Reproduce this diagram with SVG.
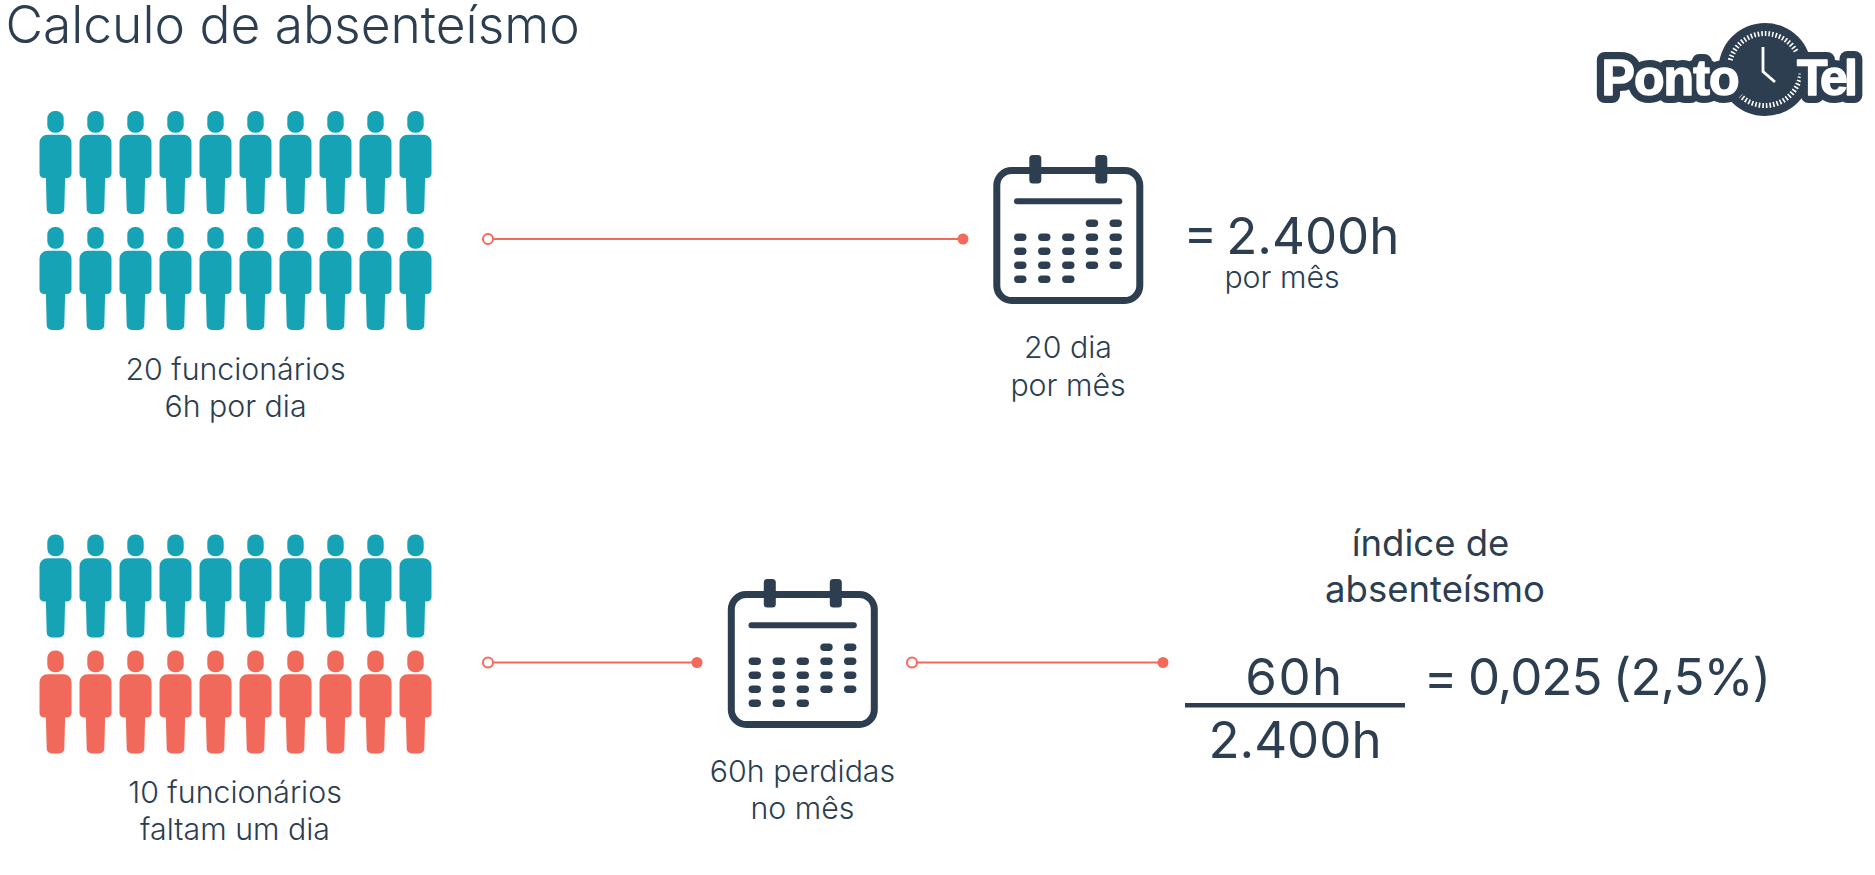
<svg xmlns="http://www.w3.org/2000/svg" xmlns:xlink="http://www.w3.org/1999/xlink" width="1875" height="875" viewBox="0 0 1875 875">
<style>
text{font-family:"Inter","Liberation Sans",sans-serif;fill:#2c3e50;font-weight:400;text-anchor:middle}
.s{font-size:30.300px;font-weight:300}
.m{font-size:36.500px;font-weight:400}
.l{font-size:51px;font-weight:400}
.c{fill:none;stroke:#f4695a;stroke-width:2}
.d{fill:#f4695a}
.o{fill:#fff;stroke:#f4695a;stroke-width:2}
.t{fill:#17a3b6}
.r{fill:#f1695a}
.cal{fill:#2c3e50}
.lg{font-family:"Liberation Sans",sans-serif;font-size:50px;font-weight:700;text-anchor:start}
.lo{fill:#2c3e50;stroke:#2c3e50;stroke-width:16;stroke-linejoin:round}
.li{fill:#fff;stroke:#fff;stroke-width:1.500;stroke-linejoin:round}
</style>
<defs>
<g id="p"><rect x="-8.200" y="111" width="16.400" height="21.700" rx="7.500"/><path d="M-8 134.700H8A8 8 0 0 1 16 142.700V173.500A4.500 4.500 0 0 1 11.500 178H9.600L8.800 209A5 5 0 0 1 3.800 214H-3.800A5 5 0 0 1 -8.800 209L-9.600 178H-11.500A4.500 4.500 0 0 1 -16 173.500V142.700A8 8 0 0 1 -8 134.700Z"/></g>
<g id="row"><use xlink:href="#p" x="55.500"/><use xlink:href="#p" x="95.500"/><use xlink:href="#p" x="135.500"/><use xlink:href="#p" x="175.500"/><use xlink:href="#p" x="215.500"/><use xlink:href="#p" x="255.500"/><use xlink:href="#p" x="295.500"/><use xlink:href="#p" x="335.500"/><use xlink:href="#p" x="375.500"/><use xlink:href="#p" x="415.500"/></g>
<rect id="dot" width="12.400" height="7.400" rx="3.700"/>
<g id="calendar">
<rect x="3.500" y="15.500" width="143" height="130" rx="15" fill="none" stroke="#2c3e50" stroke-width="7"/>
<rect x="36" y="0" width="12" height="28.500" rx="3.500" class="cal"/><rect x="102" y="0" width="12" height="28.500" rx="3.500" class="cal"/>
<rect x="20.700" y="43.300" width="108.300" height="6" rx="3" class="cal"/>
<g class="cal">
<use xlink:href="#dot" x="92.500" y="64.600"/><use xlink:href="#dot" x="116.200" y="64.600"/>
<use xlink:href="#dot" x="20.800" y="78.600"/><use xlink:href="#dot" x="44.800" y="78.600"/><use xlink:href="#dot" x="68.800" y="78.600"/><use xlink:href="#dot" x="92.500" y="78.600"/><use xlink:href="#dot" x="116.200" y="78.600"/>
<use xlink:href="#dot" x="20.800" y="92.600"/><use xlink:href="#dot" x="44.800" y="92.600"/><use xlink:href="#dot" x="68.800" y="92.600"/><use xlink:href="#dot" x="92.500" y="92.600"/><use xlink:href="#dot" x="116.200" y="92.600"/>
<use xlink:href="#dot" x="20.800" y="106.600"/><use xlink:href="#dot" x="44.800" y="106.600"/><use xlink:href="#dot" x="68.800" y="106.600"/><use xlink:href="#dot" x="92.500" y="106.600"/><use xlink:href="#dot" x="116.200" y="106.600"/>
<use xlink:href="#dot" x="20.800" y="120.600"/><use xlink:href="#dot" x="44.800" y="120.600"/><use xlink:href="#dot" x="68.800" y="120.600"/>
</g>
</g>
</defs>
<text id="title" x="5.500" y="43" style="font-size:51.500px;font-weight:300;text-anchor:start">Calculo de absenteísmo</text>
<g id="people-top"><use xlink:href="#row" class="t"/><use xlink:href="#row" y="116" class="t"/></g>
<g id="people-bottom"><use xlink:href="#row" y="423.500" class="t"/><use xlink:href="#row" y="539.500" class="r"/></g>
<g id="label-20f"><text class="s" x="235.500" y="380">20 funcionários</text><text class="s" x="235.500" y="417">6h por dia</text></g>
<g id="label-10f"><text class="s" x="235" y="803">10 funcionários</text><text class="s" x="235" y="840">faltam um dia</text></g>
<g id="connectors">
<path class="c" d="M488 239H963"/><circle class="o" cx="488" cy="239" r="5"/><circle class="d" cx="963" cy="239" r="5.500"/>
<path class="c" d="M488 662.500H697"/><circle class="o" cx="488" cy="662.500" r="5"/><circle class="d" cx="697" cy="662.500" r="5.500"/>
<path class="c" d="M912 662.500H1163"/><circle class="o" cx="912" cy="662.500" r="5"/><circle class="d" cx="1163" cy="662.500" r="5.500"/>
</g>
<g id="calendar-top"><use xlink:href="#calendar" x="993.300" y="155"/></g>
<g id="calendar-bottom"><use xlink:href="#calendar" x="727.800" y="579"/></g>
<g id="label-20d"><text class="s" x="1068" y="358">20 dia</text><text class="s" x="1068" y="396">por mês</text></g>
<g id="result"><text class="l" x="1291.500" y="254" style="word-spacing:-5.500px">= 2.400h</text><text class="s" x="1282" y="288">por mês</text></g>
<g id="label-60h"><text class="s" x="802.500" y="782">60h perdidas</text><text class="s" x="802.500" y="819">no mês</text></g>
<g id="indice"><text class="m" x="1430.500" y="556">índice de</text><text class="m" x="1435" y="601.500">absenteísmo</text></g>
<g id="fraction"><text class="l" x="1294.500" y="695" style="letter-spacing:1.500px">60h</text><rect x="1185" y="703" width="220" height="4.500" fill="#2c3e50"/><text class="l" x="1295" y="758">2.400h</text><text class="l" x="1597" y="695" style="letter-spacing:-1px;word-spacing:-2px">= 0,025 (2,5%)</text></g>
<g id="logo">
<circle cx="1765" cy="69.500" r="46.500" fill="#2c3e50"/>
<circle cx="1765" cy="69.500" r="36" fill="none" stroke="#fff" stroke-width="5" stroke-dasharray="1.600 2"/>
<text class="lg lo" x="1601.500" y="95" textLength="138">Ponto</text>
<text class="lg lo" x="1797" y="95" textLength="61">Tel</text>
<text class="lg li" x="1601.500" y="95" textLength="138">Ponto</text>
<text class="lg li" x="1797" y="95" textLength="61">Tel</text>
<path d="M1763 47V71.500L1775 82" fill="none" stroke="#fff" stroke-width="2.800"/>
</g>
</svg>
